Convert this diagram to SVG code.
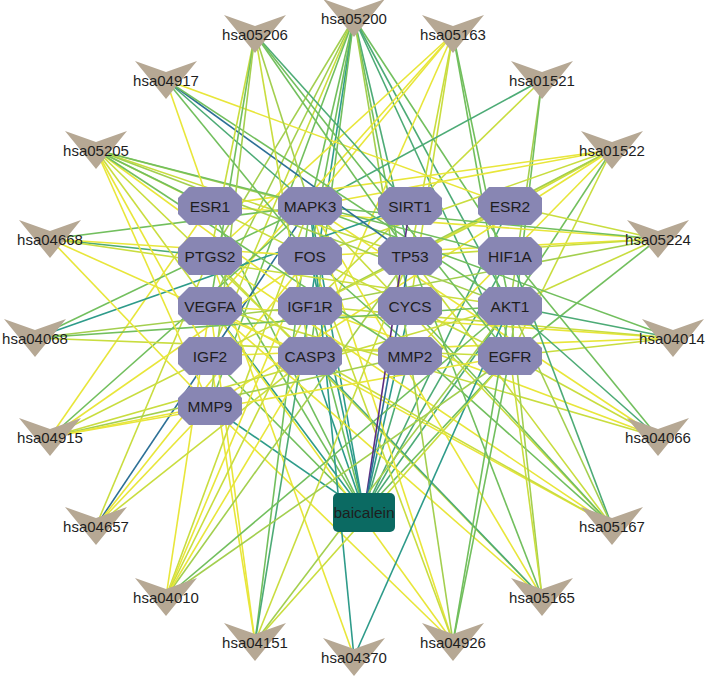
<svg xmlns="http://www.w3.org/2000/svg" xmlns:xlink="http://www.w3.org/1999/xlink" width="708" height="678" viewBox="0 0 708 678">
<style>
line{stroke-width:1.6;fill:none}
.y{stroke:#e8e63a}.yg{stroke:#c9dd3f}.lg{stroke:#a3cf4f}.g{stroke:#72bf5e}.gt{stroke:#4dab76}.t{stroke:#2e9b8a}.b{stroke:#2d7096}.p{stroke:#5b2d82}
.oct{fill:#8886b3}
.chev{fill:#b6a894}
text{font-family:"Liberation Sans",Arial,sans-serif;fill:#1e1e1e;text-anchor:middle}
.pl{font-size:15px}
.gl{font-size:15.5px}
</style>
<defs>
<polygon id="octs" class="oct" points="-21,-19 21,-19 32,-8 32,8 21,19 -21,19 -32,8 -32,-8"/>
<polygon id="chs" class="chev" points="-31,-19 0,-8 31,-19 0,19"/>
</defs>
<rect width="708" height="678" fill="#ffffff"/>
<g id="edges">
<line class="g" x1="364" y1="512" x2="210" y2="206"/>
<line class="t" x1="364" y1="512" x2="310" y2="206"/>
<line class="gt" x1="364" y1="512" x2="510" y2="206"/>
<line class="g" x1="364" y1="512" x2="210" y2="256"/>
<line class="t" x1="364" y1="512" x2="310" y2="256"/>
<line class="gt" x1="364" y1="512" x2="510" y2="256"/>
<line class="t" x1="364" y1="512" x2="210" y2="306"/>
<line class="g" x1="364" y1="512" x2="310" y2="306"/>
<line class="t" x1="364" y1="512" x2="410" y2="306"/>
<line class="gt" x1="364" y1="512" x2="510" y2="306"/>
<line class="g" x1="364" y1="512" x2="210" y2="356"/>
<line class="t" x1="364" y1="512" x2="310" y2="356"/>
<line class="gt" x1="364" y1="512" x2="410" y2="356"/>
<line class="g" x1="364" y1="512" x2="510" y2="356"/>
<line class="t" x1="364" y1="512" x2="210" y2="406"/>

<line class="g" x1="354" y1="18" x2="310" y2="206"/>
<line class="lg" x1="354" y1="18" x2="210" y2="256"/>
<line class="g" x1="354" y1="18" x2="310" y2="256"/>
<line class="gt" x1="354" y1="18" x2="410" y2="256"/>
<line class="g" x1="354" y1="18" x2="510" y2="256"/>
<line class="lg" x1="354" y1="18" x2="210" y2="306"/>
<line class="t" x1="354" y1="18" x2="310" y2="306"/>
<line class="g" x1="354" y1="18" x2="410" y2="306"/>
<line class="gt" x1="354" y1="18" x2="510" y2="306"/>
<line class="yg" x1="354" y1="18" x2="210" y2="356"/>
<line class="g" x1="354" y1="18" x2="310" y2="356"/>
<line class="lg" x1="354" y1="18" x2="410" y2="356"/>
<line class="gt" x1="354" y1="18" x2="510" y2="356"/>
<line class="g" x1="354" y1="18" x2="210" y2="406"/>

<line class="y" x1="453" y1="34" x2="310" y2="206"/>
<line class="y" x1="453" y1="34" x2="210" y2="256"/>
<line class="yg" x1="453" y1="34" x2="410" y2="256"/>
<line class="y" x1="453" y1="34" x2="210" y2="306"/>
<line class="yg" x1="453" y1="34" x2="410" y2="306"/>
<line class="g" x1="453" y1="34" x2="510" y2="306"/>
<line class="y" x1="453" y1="34" x2="310" y2="356"/>
<line class="g" x1="453" y1="34" x2="510" y2="356"/>

<line class="gt" x1="542" y1="80" x2="310" y2="206"/>
<line class="yg" x1="542" y1="80" x2="310" y2="306"/>
<line class="lg" x1="542" y1="80" x2="510" y2="306"/>
<line class="g" x1="542" y1="80" x2="510" y2="356"/>

<line class="y" x1="612" y1="150" x2="210" y2="206"/>
<line class="yg" x1="612" y1="150" x2="510" y2="206"/>
<line class="y" x1="612" y1="150" x2="310" y2="206"/>
<line class="yg" x1="612" y1="150" x2="310" y2="256"/>
<line class="y" x1="612" y1="150" x2="410" y2="256"/>
<line class="lg" x1="612" y1="150" x2="310" y2="306"/>
<line class="g" x1="612" y1="150" x2="510" y2="306"/>
<line class="yg" x1="612" y1="150" x2="510" y2="356"/>
<line class="y" x1="612" y1="150" x2="410" y2="356"/>
<line class="y" x1="612" y1="150" x2="210" y2="406"/>

<line class="y" x1="658" y1="239" x2="210" y2="206"/>
<line class="yg" x1="658" y1="239" x2="510" y2="206"/>
<line class="g" x1="658" y1="239" x2="310" y2="206"/>
<line class="y" x1="658" y1="239" x2="310" y2="256"/>
<line class="yg" x1="658" y1="239" x2="410" y2="256"/>
<line class="lg" x1="658" y1="239" x2="310" y2="306"/>
<line class="yg" x1="658" y1="239" x2="510" y2="306"/>
<line class="g" x1="658" y1="239" x2="510" y2="356"/>

<line class="g" x1="673" y1="338" x2="310" y2="206"/>
<line class="y" x1="673" y1="338" x2="210" y2="306"/>
<line class="yg" x1="673" y1="338" x2="310" y2="306"/>
<line class="gt" x1="673" y1="338" x2="510" y2="306"/>
<line class="y" x1="673" y1="338" x2="210" y2="356"/>
<line class="yg" x1="673" y1="338" x2="510" y2="356"/>

<line class="y" x1="658" y1="437" x2="310" y2="206"/>
<line class="g" x1="658" y1="437" x2="510" y2="256"/>
<line class="yg" x1="658" y1="437" x2="210" y2="306"/>
<line class="y" x1="658" y1="437" x2="310" y2="306"/>
<line class="gt" x1="658" y1="437" x2="510" y2="306"/>
<line class="yg" x1="658" y1="437" x2="510" y2="356"/>

<line class="yg" x1="612" y1="526" x2="310" y2="206"/>
<line class="y" x1="612" y1="526" x2="210" y2="256"/>
<line class="g" x1="612" y1="526" x2="310" y2="256"/>
<line class="yg" x1="612" y1="526" x2="410" y2="256"/>
<line class="gt" x1="612" y1="526" x2="510" y2="256"/>
<line class="y" x1="612" y1="526" x2="210" y2="306"/>
<line class="g" x1="612" y1="526" x2="410" y2="306"/>
<line class="lg" x1="612" y1="526" x2="510" y2="306"/>
<line class="yg" x1="612" y1="526" x2="310" y2="356"/>

<line class="y" x1="542" y1="597" x2="310" y2="206"/>
<line class="yg" x1="542" y1="597" x2="210" y2="256"/>
<line class="g" x1="542" y1="597" x2="410" y2="256"/>
<line class="y" x1="542" y1="597" x2="210" y2="306"/>
<line class="lg" x1="542" y1="597" x2="510" y2="306"/>
<line class="gt" x1="542" y1="597" x2="310" y2="356"/>
<line class="yg" x1="542" y1="597" x2="510" y2="356"/>

<line class="y" x1="453" y1="642" x2="310" y2="206"/>
<line class="yg" x1="453" y1="642" x2="310" y2="256"/>
<line class="y" x1="453" y1="642" x2="210" y2="306"/>
<line class="g" x1="453" y1="642" x2="510" y2="306"/>
<line class="lg" x1="453" y1="642" x2="410" y2="356"/>
<line class="y" x1="453" y1="642" x2="210" y2="406"/>
<line class="g" x1="453" y1="642" x2="510" y2="356"/>

<line class="y" x1="354" y1="657" x2="210" y2="256"/>
<line class="t" x1="354" y1="657" x2="310" y2="206"/>
<line class="t" x1="354" y1="657" x2="510" y2="306"/>

<line class="g" x1="255" y1="642" x2="310" y2="206"/>
<line class="yg" x1="255" y1="642" x2="410" y2="256"/>
<line class="y" x1="255" y1="642" x2="210" y2="306"/>
<line class="gt" x1="255" y1="642" x2="310" y2="306"/>
<line class="lg" x1="255" y1="642" x2="510" y2="306"/>
<line class="y" x1="255" y1="642" x2="210" y2="356"/>
<line class="yg" x1="255" y1="642" x2="510" y2="356"/>

<line class="yg" x1="166" y1="597" x2="310" y2="206"/>
<line class="y" x1="166" y1="597" x2="310" y2="256"/>
<line class="lg" x1="166" y1="597" x2="410" y2="256"/>
<line class="yg" x1="166" y1="597" x2="310" y2="306"/>
<line class="g" x1="166" y1="597" x2="510" y2="306"/>
<line class="y" x1="166" y1="597" x2="310" y2="356"/>
<line class="lg" x1="166" y1="597" x2="510" y2="356"/>
<line class="y" x1="166" y1="597" x2="210" y2="306"/>

<line class="b" x1="96" y1="526" x2="310" y2="206"/>
<line class="yg" x1="96" y1="526" x2="210" y2="256"/>
<line class="y" x1="96" y1="526" x2="310" y2="256"/>
<line class="yg" x1="96" y1="526" x2="310" y2="356"/>
<line class="y" x1="96" y1="526" x2="210" y2="406"/>

<line class="y" x1="50" y1="437" x2="210" y2="206"/>
<line class="yg" x1="50" y1="437" x2="510" y2="206"/>
<line class="g" x1="50" y1="437" x2="310" y2="206"/>
<line class="y" x1="50" y1="437" x2="310" y2="256"/>
<line class="yg" x1="50" y1="437" x2="510" y2="306"/>
<line class="y" x1="50" y1="437" x2="510" y2="356"/>
<line class="lg" x1="50" y1="437" x2="410" y2="356"/>
<line class="y" x1="50" y1="437" x2="210" y2="406"/>

<line class="g" x1="35" y1="338" x2="310" y2="206"/>
<line class="t" x1="35" y1="338" x2="410" y2="206"/>
<line class="lg" x1="35" y1="338" x2="310" y2="306"/>
<line class="g" x1="35" y1="338" x2="510" y2="306"/>
<line class="yg" x1="35" y1="338" x2="510" y2="356"/>

<line class="g" x1="50" y1="239" x2="310" y2="206"/>
<line class="gt" x1="50" y1="239" x2="210" y2="256"/>
<line class="y" x1="50" y1="239" x2="310" y2="256"/>
<line class="y" x1="50" y1="239" x2="310" y2="356"/>
<line class="yg" x1="50" y1="239" x2="510" y2="306"/>
<line class="y" x1="50" y1="239" x2="210" y2="406"/>

<line class="lg" x1="96" y1="150" x2="310" y2="206"/>
<line class="yg" x1="96" y1="150" x2="410" y2="256"/>
<line class="g" x1="96" y1="150" x2="510" y2="256"/>
<line class="yg" x1="96" y1="150" x2="210" y2="306"/>
<line class="y" x1="96" y1="150" x2="310" y2="306"/>
<line class="yg" x1="96" y1="150" x2="310" y2="356"/>
<line class="lg" x1="96" y1="150" x2="510" y2="306"/>
<line class="y" x1="96" y1="150" x2="210" y2="356"/>
<line class="g" x1="96" y1="150" x2="410" y2="356"/>
<line class="yg" x1="96" y1="150" x2="510" y2="356"/>
<line class="y" x1="96" y1="150" x2="210" y2="406"/>
<line class="g" x1="96" y1="150" x2="210" y2="206"/>

<line class="y" x1="166" y1="80" x2="210" y2="206"/>
<line class="y" x1="166" y1="80" x2="510" y2="206"/>
<line class="gt" x1="166" y1="80" x2="310" y2="206"/>
<line class="g" x1="166" y1="80" x2="310" y2="256"/>
<line class="b" x1="166" y1="80" x2="410" y2="256"/>
<line class="g" x1="166" y1="80" x2="510" y2="306"/>

<line class="lg" x1="255" y1="34" x2="310" y2="206"/>
<line class="yg" x1="255" y1="34" x2="210" y2="256"/>
<line class="g" x1="255" y1="34" x2="410" y2="256"/>
<line class="gt" x1="255" y1="34" x2="410" y2="206"/>
<line class="g" x1="255" y1="34" x2="210" y2="306"/>
<line class="yg" x1="255" y1="34" x2="310" y2="356"/>
<line class="g" x1="255" y1="34" x2="510" y2="356"/>
<line class="lg" x1="255" y1="34" x2="210" y2="406"/>

<line class="p" x1="364" y1="512" x2="410" y2="206"/>
<line class="b" x1="364" y1="512" x2="410" y2="256"/>
</g>

<g id="ESR1"><use href="#octs" x="210" y="206"/><text class="gl" x="210" y="211.5">ESR1</text></g>
<g id="MAPK3"><use href="#octs" x="310" y="206"/><text class="gl" x="310" y="211.5">MAPK3</text></g>
<g id="SIRT1"><use href="#octs" x="410" y="206"/><text class="gl" x="410" y="211.5">SIRT1</text></g>
<g id="ESR2"><use href="#octs" x="510" y="206"/><text class="gl" x="510" y="211.5">ESR2</text></g>
<g id="PTGS2"><use href="#octs" x="210" y="256"/><text class="gl" x="210" y="261.5">PTGS2</text></g>
<g id="FOS"><use href="#octs" x="310" y="256"/><text class="gl" x="310" y="261.5">FOS</text></g>
<g id="TP53"><use href="#octs" x="410" y="256"/><text class="gl" x="410" y="261.5">TP53</text></g>
<g id="HIF1A"><use href="#octs" x="510" y="256"/><text class="gl" x="510" y="261.5">HIF1A</text></g>
<g id="VEGFA"><use href="#octs" x="210" y="306"/><text class="gl" x="210" y="311.5">VEGFA</text></g>
<g id="IGF1R"><use href="#octs" x="310" y="306"/><text class="gl" x="310" y="311.5">IGF1R</text></g>
<g id="CYCS"><use href="#octs" x="410" y="306"/><text class="gl" x="410" y="311.5">CYCS</text></g>
<g id="AKT1"><use href="#octs" x="510" y="306"/><text class="gl" x="510" y="311.5">AKT1</text></g>
<g id="IGF2"><use href="#octs" x="210" y="356"/><text class="gl" x="210" y="361.5">IGF2</text></g>
<g id="CASP3"><use href="#octs" x="310" y="356"/><text class="gl" x="310" y="361.5">CASP3</text></g>
<g id="MMP2"><use href="#octs" x="410" y="356"/><text class="gl" x="410" y="361.5">MMP2</text></g>
<g id="EGFR"><use href="#octs" x="510" y="356"/><text class="gl" x="510" y="361.5">EGFR</text></g>
<g id="MMP9"><use href="#octs" x="210" y="406"/><text class="gl" x="210" y="411.5">MMP9</text></g>

<g id="hsa05200"><use href="#chs" x="354" y="18"/><text class="pl" x="354" y="23.5">hsa05200</text></g>
<g id="hsa05163"><use href="#chs" x="453" y="34"/><text class="pl" x="453" y="39.5">hsa05163</text></g>
<g id="hsa01521"><use href="#chs" x="542" y="80"/><text class="pl" x="542" y="85.5">hsa01521</text></g>
<g id="hsa01522"><use href="#chs" x="612" y="150"/><text class="pl" x="612" y="155.5">hsa01522</text></g>
<g id="hsa05224"><use href="#chs" x="658" y="239"/><text class="pl" x="658" y="244.5">hsa05224</text></g>
<g id="hsa04014"><use href="#chs" x="673" y="338"/><text class="pl" x="672" y="343.5">hsa04014</text></g>
<g id="hsa04066"><use href="#chs" x="658" y="437"/><text class="pl" x="658" y="442.5">hsa04066</text></g>
<g id="hsa05167"><use href="#chs" x="612" y="526"/><text class="pl" x="612" y="531.5">hsa05167</text></g>
<g id="hsa05165"><use href="#chs" x="542" y="597"/><text class="pl" x="542" y="602.5">hsa05165</text></g>
<g id="hsa04926"><use href="#chs" x="453" y="642"/><text class="pl" x="453" y="647.5">hsa04926</text></g>
<g id="hsa04370"><use href="#chs" x="354" y="657"/><text class="pl" x="354" y="662.5">hsa04370</text></g>
<g id="hsa04151"><use href="#chs" x="255" y="642"/><text class="pl" x="255" y="647.5">hsa04151</text></g>
<g id="hsa04010"><use href="#chs" x="166" y="597"/><text class="pl" x="166" y="602.5">hsa04010</text></g>
<g id="hsa04657"><use href="#chs" x="96" y="526"/><text class="pl" x="96" y="531.5">hsa04657</text></g>
<g id="hsa04915"><use href="#chs" x="50" y="437"/><text class="pl" x="50" y="442.5">hsa04915</text></g>
<g id="hsa04068"><use href="#chs" x="35" y="338"/><text class="pl" x="35" y="343.5">hsa04068</text></g>
<g id="hsa04668"><use href="#chs" x="50" y="239"/><text class="pl" x="50" y="244.5">hsa04668</text></g>
<g id="hsa05205"><use href="#chs" x="96" y="150"/><text class="pl" x="96" y="155.5">hsa05205</text></g>
<g id="hsa04917"><use href="#chs" x="166" y="80"/><text class="pl" x="166" y="85.5">hsa04917</text></g>
<g id="hsa05206"><use href="#chs" x="255" y="34"/><text class="pl" x="255" y="39.5">hsa05206</text></g>

<g id="baicalein"><rect x="333" y="493" width="62" height="39" rx="5" fill="#0b6a62"/><text class="gl" x="364" y="518">baicalein</text></g>
</svg>
